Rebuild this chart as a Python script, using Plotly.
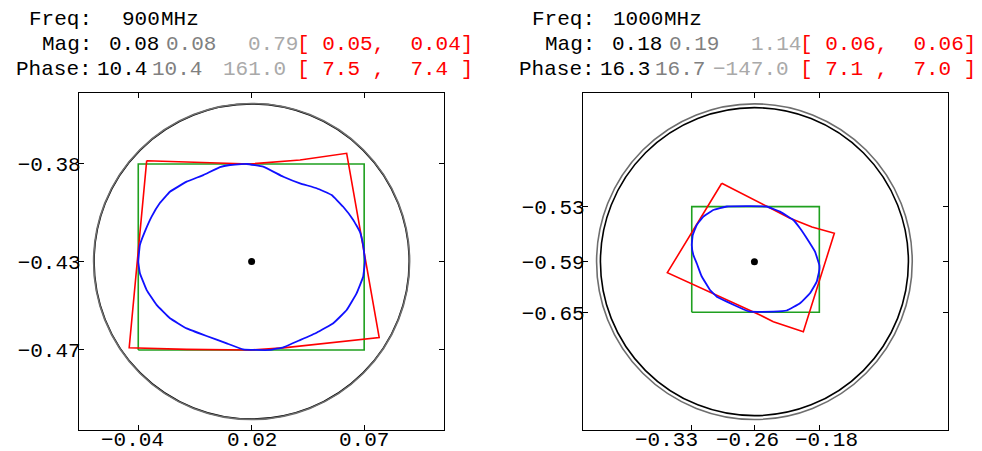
import plotly.graph_objects as go

W, H = 982, 451

# ---------------- header values ----------------
freq_mhz = ["900", "1000"]
mag_main = ["0.08", "0.18"]
mag_alt = ["0.08", "0.19"]
mag_other = ["0.79", "1.14"]
mag_range = ["[ 0.05,  0.04]", "[ 0.06,  0.06]"]
phase_main = ["10.4", "16.3"]
phase_alt = ["10.4", "16.7"]
phase_other = ["161.0", "\u2212147.0"]
phase_range = ["[ 7.5 ,  7.4 ]", "[ 7.1 ,  7.0 ]"]

# ---------------- panel geometry (data units) ----------------
center_x = [0.018, -0.2575]
center_y = [-0.430, -0.5925]
radius_main = [0.0766, 0.1848]
radius_alt = [0.0768, 0.1894]
box_x = [[-0.0371, 0.0727], [-0.3327, -0.1796]]
box_y = [[-0.4730, -0.3826], [-0.6532, -0.5265]]
x_ranges = [[-0.0659, 0.1115], [-0.4632, -0.0252]]
y_ranges = [[-0.5119, -0.3481], [-0.7945, -0.3901]]

blue_x_900 = [-0.0371, -0.0363, -0.0339, -0.0306, -0.0266, -0.0217, -0.0136, -0.0055, 0.0026, 0.0075,
              0.0156, 0.0236, 0.0334, 0.0415, 0.0496, 0.0569, 0.0625, 0.0674, 0.0706, 0.0722,
              0.0731, 0.0722, 0.0690, 0.0642, 0.0577, 0.0496, 0.0415, 0.0334, 0.0269, 0.0204,
              0.0139, 0.0059, -0.0039, -0.0136, -0.0217, -0.0282, -0.0330, -0.0363, -0.0371]
blue_y_900 = [-0.4301, -0.4220, -0.4155, -0.4082, -0.4016, -0.3961, -0.3912, -0.3880, -0.3841, -0.3831,
              -0.3826, -0.3839, -0.3888, -0.3920, -0.3944, -0.3977, -0.4034, -0.4098, -0.4155, -0.4220,
              -0.4298, -0.4374, -0.4455, -0.4536, -0.4600, -0.4646, -0.4682, -0.4717, -0.4730, -0.4730,
              -0.4727, -0.4698, -0.4662, -0.4625, -0.4576, -0.4511, -0.4439, -0.4357, -0.4301]
red_x_900 = [-0.0330, -0.0136, 0.0172, 0.0415, 0.0528, 0.0642, 0.0800, 0.0658, 0.0496, 0.0334,
             0.0172, -0.0136, -0.0415, -0.0330]
red_y_900 = [-0.3810, -0.3815, -0.3826, -0.3807, -0.3792, -0.3774, -0.4670, -0.4686, -0.4704, -0.4720,
             -0.4730, -0.4727, -0.4719, -0.3810]

blue_x_1000 = [-0.3327, -0.3315, -0.3267, -0.3188, -0.3068, -0.2907, -0.2427, -0.2268, -0.2108, -0.2028,
               -0.1947, -0.1848, -0.1796, -0.1796, -0.1827, -0.1908, -0.2028, -0.2187, -0.2348, -0.2628,
               -0.2708, -0.2907, -0.3027, -0.3108, -0.3210, -0.3264, -0.3308, -0.3327]
blue_y_1000 = [-0.5725, -0.5605, -0.5485, -0.5385, -0.5305, -0.5263, -0.5263, -0.5325, -0.5425, -0.5524,
               -0.5644, -0.5805, -0.5965, -0.6025, -0.6165, -0.6304, -0.6424, -0.6511, -0.6525, -0.6525,
               -0.6496, -0.6405, -0.6345, -0.6265, -0.6097, -0.5953, -0.5845, -0.5725]
red_x_1000 = [-0.2967, -0.2468, -0.2148, -0.1884, -0.1616, -0.1988, -0.2348, -0.2508, -0.2907, -0.3308,
              -0.3620, -0.2967]
red_y_1000 = [-0.4984, -0.5245, -0.5404, -0.5509, -0.5584, -0.6765, -0.6645, -0.6565, -0.6385, -0.6205,
              -0.6057, -0.4984]

blue_x = [blue_x_900, blue_x_1000]
blue_y = [blue_y_900, blue_y_1000]
red_x = [red_x_900, red_x_1000]
red_y = [red_y_900, red_y_1000]

# horizontal nudges of the x tick labels (px), as in the original layout
x_label_shift = [[-6, 0, 0], [-25, -7, 7]]

# ---------------- styling ----------------
FONT = "Liberation Mono"
C_GREEN = "#1fa01f"
C_RED = "#ff0000"
C_BLUE = "#1010ff"
C_GRAY = "#808080"
C_LGRAY = "#a9a9a9"
C_CIRCLE_ALT = "#6e6e6e"

plot_left_px = [79, 583]
plot_right_px = [444, 948]
plot_top_px, plot_bottom_px = 93, 430

fig = go.Figure()

for i in range(2):
    xa = "x" if i == 0 else "x2"
    ya = "y" if i == 0 else "y2"
    bx0, bx1 = box_x[i]
    by0, by1 = box_y[i]
    fig.add_trace(go.Scatter(x=[bx0, bx1, bx1, bx0, bx0], y=[by0, by0, by1, by1, by0],
                             mode="lines", line=dict(color=C_GREEN, width=1.6),
                             xaxis=xa, yaxis=ya, showlegend=False, hoverinfo="skip"))
    fig.add_trace(go.Scatter(x=red_x[i], y=red_y[i], mode="lines",
                             line=dict(color=C_RED, width=1.6),
                             xaxis=xa, yaxis=ya, showlegend=False, hoverinfo="skip"))
    fig.add_trace(go.Scatter(x=blue_x[i], y=blue_y[i], mode="lines",
                             line=dict(color=C_BLUE, width=1.8, shape="spline", smoothing=0.25),
                             xaxis=xa, yaxis=ya, showlegend=False, hoverinfo="skip"))
    fig.add_trace(go.Scatter(x=[center_x[i]], y=[center_y[i]], mode="markers",
                             marker=dict(color="black", size=7),
                             xaxis=xa, yaxis=ya, showlegend=False, hoverinfo="skip"))
    # circles
    r = radius_main[i]
    fig.add_shape(type="circle", xref=xa, yref=ya,
                  x0=center_x[i] - r, x1=center_x[i] + r, y0=center_y[i] - r, y1=center_y[i] + r,
                  line=dict(color="black", width=1.6), layer="below")
    r2 = radius_alt[i]
    fig.add_shape(type="circle", xref=xa, yref=ya,
                  x0=center_x[i] - r2, x1=center_x[i] + r2, y0=center_y[i] - r2, y1=center_y[i] + r2,
                  line=dict(color=C_CIRCLE_ALT, width=1.6), layer="below")

axis_common = dict(showgrid=False, zeroline=False, showline=True, linecolor="black", linewidth=1.3,
                   mirror="allticks", ticks="inside", ticklen=5, tickwidth=1, tickcolor="black",
                   tickformat=".2f", tickangle=0, automargin=False,
                   tickfont=dict(family=FONT, size=21, color="black"))


def fmt(v):
    return f"{v:.2f}".replace("-", "\u2212")


annotations = []
layout_axes = {}
for i in range(2):
    sx = "" if i == 0 else "2"
    xt = [box_x[i][0], center_x[i], box_x[i][1]]
    layout_axes["xaxis" + sx] = dict(
        axis_common,
        domain=[plot_left_px[i] / W, plot_right_px[i] / W],
        range=x_ranges[i],
        tickvals=xt,
        showticklabels=False,
        anchor="y" + sx,
    )
    layout_axes["yaxis" + sx] = dict(
        axis_common,
        domain=[1 - plot_bottom_px / H, 1 - plot_top_px / H],
        range=y_ranges[i],
        tickvals=[box_y[i][0], center_y[i], box_y[i][1]],
        anchor="x" + sx,
        ticklabelstandoff=-7,
    )
    # x tick labels, anchored on the axis values
    for v, dx in zip(xt, x_label_shift[i]):
        annotations.append(dict(text=fmt(v), x=v, xref="x" + sx, y=1 - 440 / H, yref="paper",
                                xanchor="center", yanchor="middle", xshift=dx, showarrow=False,
                                font=dict(family=FONT, size=21, color="black"),
                                borderpad=0, borderwidth=0))

# ---------------- header texts ----------------
def nb(s):
    return s.replace(" ", "\u00a0")


block_offset = [0, 503]
row_y = [19.5, 45, 69.5]


def add_text(txt, px, py, anchor, color):
    annotations.append(dict(text=nb(txt), x=px / W, y=1 - py / H, xref="paper", yref="paper",
                            xanchor=anchor, yanchor="middle", showarrow=False,
                            font=dict(family=FONT, size=21, color=color),
                            borderpad=0, borderwidth=0))


for i in range(2):
    o = block_offset[i]
    # row 1
    add_text("Freq:", o + 92, row_y[0], "right", "black")
    add_text(freq_mhz[i], o + 159.5, row_y[0], "right", "black")
    add_text("MHz", o + 161, row_y[0], "left", "black")
    # row 2
    add_text("Mag:", o + 92, row_y[1], "right", "black")
    add_text(mag_main[i], o + 158.5, row_y[1], "right", "black")
    add_text(mag_alt[i], o + 165.5, row_y[1], "left", C_GRAY)
    add_text(mag_other[i], o + 298, row_y[1], "right", C_LGRAY)
    add_text(mag_range[i], o + 297, row_y[1], "left", C_RED)
    # row 3
    add_text("Phase:", o + 92, row_y[2], "right", "black")
    add_text(phase_main[i], o + 147, row_y[2], "right", "black")
    add_text(phase_alt[i], o + 152, row_y[2], "left", C_GRAY)
    add_text(phase_other[i], o + 286, row_y[2], "right", C_LGRAY)
    add_text(phase_range[i], o + 297, row_y[2], "left", C_RED)

fig.update_layout(
    width=W, height=H,
    margin=dict(l=0, r=0, t=0, b=0),
    paper_bgcolor="white", plot_bgcolor="white",
    showlegend=False,
    annotations=annotations,
    **layout_axes,
)

fig.write_html("out.html", config={"displayModeBar": False},
               post_script="document.body.style.margin='0';document.body.style.overflow='hidden';")
